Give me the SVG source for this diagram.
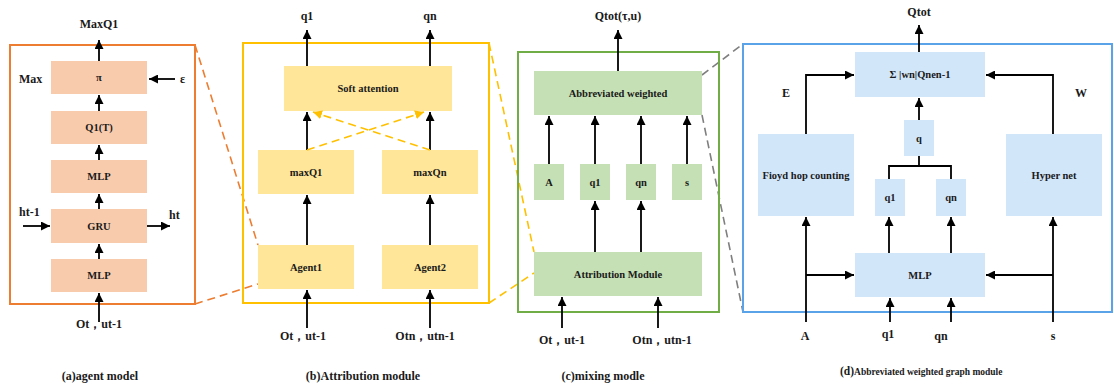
<svg xmlns="http://www.w3.org/2000/svg" width="1114" height="387" viewBox="0 0 1114 387">
<defs>
<marker id="ah" viewBox="0 0 10 10" refX="10" refY="5" markerWidth="9" markerHeight="9" markerUnits="userSpaceOnUse" orient="auto"><path d="M0,0 L10,5 L0,10 z" fill="#000"/></marker>
<marker id="ahy" viewBox="0 0 10 10" refX="10" refY="5" markerWidth="9" markerHeight="9" markerUnits="userSpaceOnUse" orient="auto"><path d="M0,0 L10,5 L0,10 z" fill="#FFC000"/></marker>
<style>
text{font-family:"Liberation Serif","Times New Roman",serif;font-weight:bold;fill:#1a1a1a}
.lbl{font-size:12px;text-anchor:middle}
.bx{font-size:10.5px;text-anchor:middle}
.cap{font-size:12px;text-anchor:middle}
.ar{stroke:#000;stroke-width:1.8;fill:none;marker-end:url(#ah)}
.ln{stroke:#000;stroke-width:1.8;fill:none}
.fa{fill:#F8CBAD}.fb{fill:#FFE699}.fc{fill:#C5E0B4}.fd{fill:#D2E6FA}
.dash{fill:none;stroke-width:1.6;stroke-dasharray:8,5}
</style>
</defs>

<!-- zoom connectors between panels -->
<g id="zoom-lines">
<line class="dash" stroke="#ED7D31" x1="195" y1="45" x2="258" y2="245"/>
<line class="dash" stroke="#ED7D31" x1="195" y1="304" x2="258" y2="284"/>
<line class="dash" stroke="#FFC000" x1="489" y1="43" x2="534" y2="252"/>
<line class="dash" stroke="#FFC000" x1="489" y1="303" x2="534" y2="273"/>
<line class="dash" stroke="#7F7F7F" x1="702" y1="75" x2="743" y2="44"/>
<line class="dash" stroke="#7F7F7F" x1="702" y1="115" x2="743" y2="312"/>
</g>

<!-- panel frames -->
<g id="frames">
<rect x="10" y="45" width="185" height="259" fill="none" stroke="#ED7D31" stroke-width="2"/>
<rect x="243" y="43" width="246" height="260" fill="none" stroke="#FFC000" stroke-width="2"/>
<rect x="518" y="52" width="201" height="260" fill="none" stroke="#70AD47" stroke-width="2"/>
<rect x="743" y="44" width="369" height="268" fill="none" stroke="#5BA3E8" stroke-width="2"/>
</g>

<!-- panel (a) -->
<g id="a-pi"><rect class="fa" x="51" y="61" width="96" height="33"/><text class="bx" x="99" y="81">π</text></g>
<g id="a-q1t"><rect class="fa" x="51" y="111" width="96" height="33"/><text class="bx" x="99" y="131">Q1(T)</text></g>
<g id="a-mlp1"><rect class="fa" x="51" y="160" width="96" height="33"/><text class="bx" x="99" y="180">MLP</text></g>
<g id="a-gru"><rect class="fa" x="51" y="209" width="96" height="34"/><text class="bx" x="99" y="230">GRU</text></g>
<g id="a-mlp2"><rect class="fa" x="51" y="259" width="96" height="33"/><text class="bx" x="99" y="279">MLP</text></g>

<!-- panel (b) -->
<g id="b-soft"><rect class="fb" x="284" y="66" width="168" height="45"/><text class="bx" x="368" y="92">Soft  attention</text></g>
<g id="b-maxq1"><rect class="fb" x="258" y="150" width="96" height="44"/><text class="bx" x="306" y="176">maxQ1</text></g>
<g id="b-maxqn"><rect class="fb" x="382" y="150" width="96" height="44"/><text class="bx" x="430" y="176">maxQn</text></g>
<g id="b-agent1"><rect class="fb" x="258" y="245" width="96" height="44"/><text class="bx" x="306" y="271">Agent1</text></g>
<g id="b-agent2"><rect class="fb" x="382" y="245" width="96" height="44"/><text class="bx" x="430" y="271">Agent2</text></g>

<!-- panel (c) -->
<g id="c-abw"><rect class="fc" x="534" y="71" width="168" height="44"/><text class="bx" x="618" y="97">Abbreviated weighted</text></g>
<g id="c-a"><rect class="fc" x="534" y="164" width="30" height="36"/><text class="bx" x="549" y="186">A</text></g>
<g id="c-q1"><rect class="fc" x="580" y="164" width="30" height="36"/><text class="bx" x="595" y="186">q1</text></g>
<g id="c-qn"><rect class="fc" x="626" y="164" width="30" height="36"/><text class="bx" x="641" y="186">qn</text></g>
<g id="c-s"><rect class="fc" x="672" y="164" width="30" height="36"/><text class="bx" x="687" y="186">s</text></g>
<g id="c-attr"><rect class="fc" x="534" y="252" width="168" height="44"/><text class="bx" x="618" y="278">Attribution Module</text></g>

<!-- panel (d) -->
<g id="d-sum"><rect class="fd" x="855" y="52" width="130" height="45"/><text class="bx" x="920" y="78">Σ |wn|Qnen-1</text></g>
<g id="d-q"><rect class="fd" x="904" y="120" width="30" height="36"/><text class="bx" x="919" y="142">q</text></g>
<g id="d-q1"><rect class="fd" x="875" y="179" width="30" height="37"/><text class="bx" x="890" y="201">q1</text></g>
<g id="d-qn"><rect class="fd" x="936" y="179" width="30" height="37"/><text class="bx" x="951" y="201">qn</text></g>
<g id="d-floyd"><rect class="fd" x="758" y="134" width="96" height="82"/><text class="bx" x="806" y="179">Fioyd hop counting</text></g>
<g id="d-hyper"><rect class="fd" x="1006" y="134" width="96" height="82"/><text class="bx" x="1054" y="179">Hyper net</text></g>
<g id="d-mlp"><rect class="fd" x="855" y="253" width="130" height="44"/><text class="bx" x="920" y="279">MLP</text></g>

<!-- connectors -->
<g id="connectors">
<!-- a -->
<line class="ar" x1="99" y1="61" x2="99" y2="40"/>
<line class="ar" x1="99" y1="111" x2="99" y2="95"/>
<line class="ar" x1="99" y1="160" x2="99" y2="145"/>
<line class="ar" x1="99" y1="209" x2="99" y2="194"/>
<line class="ar" x1="99" y1="259" x2="99" y2="244"/>
<line class="ar" x1="99" y1="322" x2="99" y2="293"/>
<line class="ar" x1="175" y1="79" x2="149" y2="79"/>
<line class="ar" x1="23" y1="226" x2="50" y2="226"/>
<line class="ar" x1="147" y1="226" x2="170" y2="226"/>
<!-- b -->
<line class="ar" x1="307" y1="66" x2="307" y2="30"/>
<line class="ar" x1="430" y1="66" x2="430" y2="30"/>
<line class="ar" x1="307" y1="150" x2="307" y2="112"/>
<line class="ar" x1="430" y1="150" x2="430" y2="112"/>
<line class="ar" x1="307" y1="245" x2="307" y2="195"/>
<line class="ar" x1="430" y1="245" x2="430" y2="195"/>
<line class="ar" x1="307" y1="328" x2="307" y2="290"/>
<line class="ar" x1="430" y1="328" x2="430" y2="290"/>
<line stroke="#FFC000" stroke-width="1.6" stroke-dasharray="8,5" fill="none" marker-end="url(#ahy)" x1="307" y1="150" x2="424" y2="112"/>
<line stroke="#FFC000" stroke-width="1.6" stroke-dasharray="8,5" fill="none" marker-end="url(#ahy)" x1="430" y1="150" x2="313" y2="112"/>
<!-- c -->
<line class="ar" x1="618" y1="71" x2="618" y2="30"/>
<line class="ar" x1="549" y1="164" x2="549" y2="116"/>
<line class="ar" x1="595" y1="164" x2="595" y2="116"/>
<line class="ar" x1="641" y1="164" x2="641" y2="116"/>
<line class="ar" x1="687" y1="164" x2="687" y2="116"/>
<line class="ar" x1="595" y1="252" x2="595" y2="201"/>
<line class="ar" x1="641" y1="252" x2="641" y2="201"/>
<line class="ar" x1="562" y1="328" x2="562" y2="297"/>
<line class="ar" x1="658" y1="328" x2="658" y2="297"/>
<!-- d -->
<line class="ar" x1="919" y1="52" x2="919" y2="25"/>
<line class="ar" x1="919" y1="120" x2="919" y2="98"/>
<polyline class="ar" points="806,134 806,75 854,75"/>
<polyline class="ar" points="1053,134 1053,75 986,75"/>
<line class="ln" x1="919" y1="156" x2="919" y2="166"/>
<polyline class="ln" points="889,179 889,166 951,166 951,179"/>
<line class="ar" x1="889" y1="253" x2="889" y2="217"/>
<line class="ar" x1="951" y1="253" x2="951" y2="217"/>
<line class="ar" x1="806" y1="322" x2="806" y2="217"/>
<line class="ar" x1="806" y1="275" x2="854" y2="275"/>
<line class="ar" x1="1053" y1="322" x2="1053" y2="217"/>
<line class="ar" x1="1053" y1="275" x2="986" y2="275"/>
<line class="ar" x1="890" y1="322" x2="890" y2="298"/>
<line class="ar" x1="951" y1="322" x2="951" y2="298"/>
</g>

<!-- free labels -->
<g id="labels">
<text class="lbl" x="99" y="28">MaxQ1</text>
<text x="19" y="83" font-size="12">Max</text>
<text x="180" y="83" font-size="12">ε</text>
<text x="19" y="216" font-size="12">ht-1</text>
<text x="169" y="219" font-size="12">ht</text>
<text class="lbl" x="99" y="328">Ot，ut-1</text>
<text class="lbl" x="307" y="20">q1</text>
<text class="lbl" x="430" y="20">qn</text>
<text class="lbl" x="303" y="340">Ot，ut-1</text>
<text class="lbl" x="425" y="340">Otn，utn-1</text>
<text class="lbl" x="618" y="20">Qtot(τ,u)</text>
<text class="lbl" x="562" y="344">Ot，ut-1</text>
<text class="lbl" x="662" y="344">Otn，utn-1</text>
<text class="lbl" x="919" y="16">Qtot</text>
<text class="lbl" x="786" y="97">E</text>
<text class="lbl" x="1081" y="97">W</text>
<text class="lbl" x="805" y="340">A</text>
<text class="lbl" x="888" y="338">q1</text>
<text class="lbl" x="941" y="340">qn</text>
<text class="lbl" x="1053" y="340">s</text>
</g>

<!-- captions -->
<g id="captions">
<text class="cap" x="100" y="380">(a)agent model</text>
<text class="cap" x="363" y="380">(b)Attribution module</text>
<text class="cap" x="603" y="380">(c)mixing modle</text>
<text x="840" y="375" font-size="11.5">(d)<tspan font-size="9.5">Abbreviated weighted graph module</tspan></text>
</g>
</svg>
